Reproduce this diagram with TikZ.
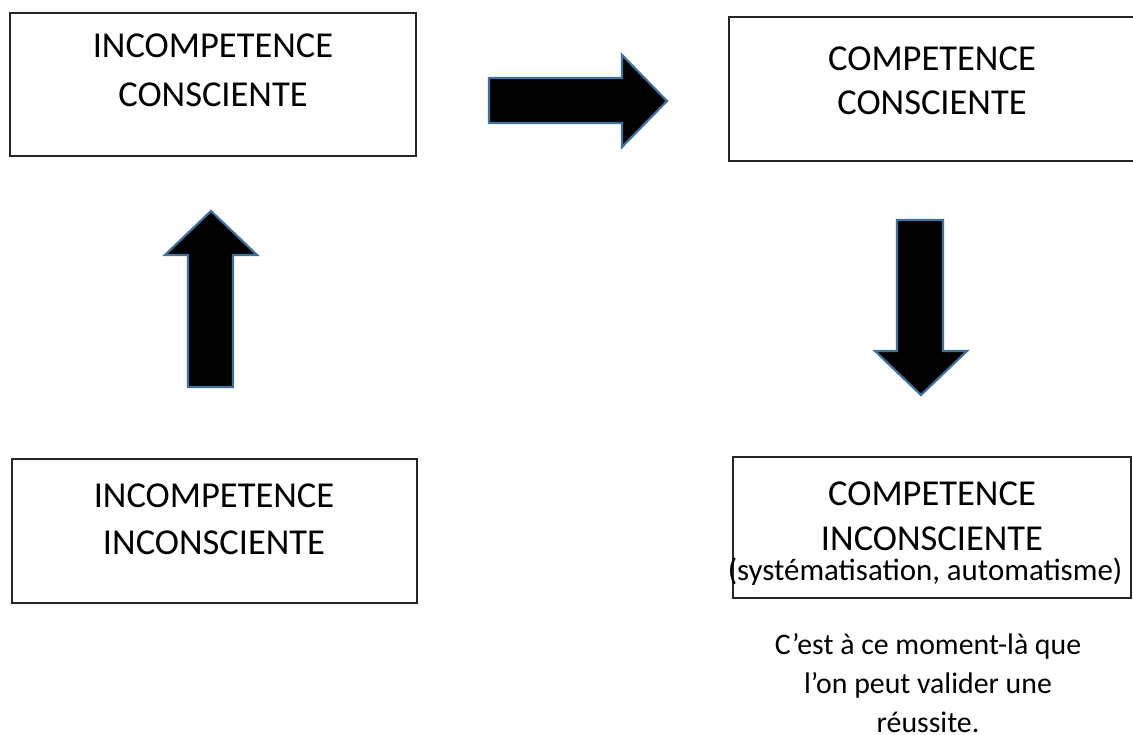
\documentclass[tikz,border=0pt]{standalone}
\usepackage{fontspec}
\setmainfont{Carlito}
\definecolor{arrowblue}{HTML}{41719C}
\begin{document}
\begin{tikzpicture}[x=1pt,y=-1pt,
  box/.style={draw=black!85,line width=1.1pt,rectangle,inner sep=0pt},
  big/.style={anchor=base,inner sep=0pt,font=\fontsize{36.5}{44}\selectfont},
  small/.style={anchor=base,inner sep=0pt,font=\fontsize{30.9}{36}\selectfont},
  note/.style={anchor=base,inner sep=0pt,font=\fontsize{29.8}{36}\selectfont},
  blockarrow/.style={fill=black,draw=arrowblue,line width=2.2pt,line join=miter}]
\useasboundingbox (0,0) rectangle (1133,735);
% boxes
\node[box,minimum width=406pt,minimum height=143pt] (b1) at (213,84.5) {};
\node[box,minimum width=408pt,minimum height=144pt] (b2) at (933,89) {};
\node[box,minimum width=405pt,minimum height=144pt] (b3) at (214.5,531) {};
\node[box,minimum width=398pt,minimum height=141pt] (b4) at (932,527.5) {};
% texts
\node[big] (t1a) at (213,58) {INCOMPETENCE};
\node[big] (t1b) at (213,107) {CONSCIENTE};
\node[big] (t2a) at (932,71) {COMPETENCE};
\node[big] (t2b) at (932,115) {CONSCIENTE};
\node[big] (t3a) at (214,507) {INCOMPETENCE};
\node[big] (t3b) at (214,554) {INCONSCIENTE};
\node[big] (t4a) at (932,505) {COMPETENCE};
\node[big] (t4b) at (932,550) {INCONSCIENTE};
\node[small] (t4c) at (925,580) {(systématisation, automatisme)};
\node[note] (n1) at (928,654) {C’est à ce moment-là que};
\node[note] (n2) at (928,693) {l’on peut valider une};
\node[note] (n3) at (928,732) {réussite.};
% block arrows
\draw[blockarrow] (489,78) -- (622,78) -- (622,55) -- (667,101) -- (622,147) -- (622,123) -- (489,123) -- cycle;
\draw[blockarrow] (188,387) -- (188,255) -- (165,255) -- (211,211) -- (257,255) -- (233,255) -- (233,387) -- cycle;
\draw[blockarrow] (897,220) -- (943,220) -- (943,351) -- (967,351) -- (921,395) -- (875,351) -- (897,351) -- cycle;
\end{tikzpicture}
\end{document}
